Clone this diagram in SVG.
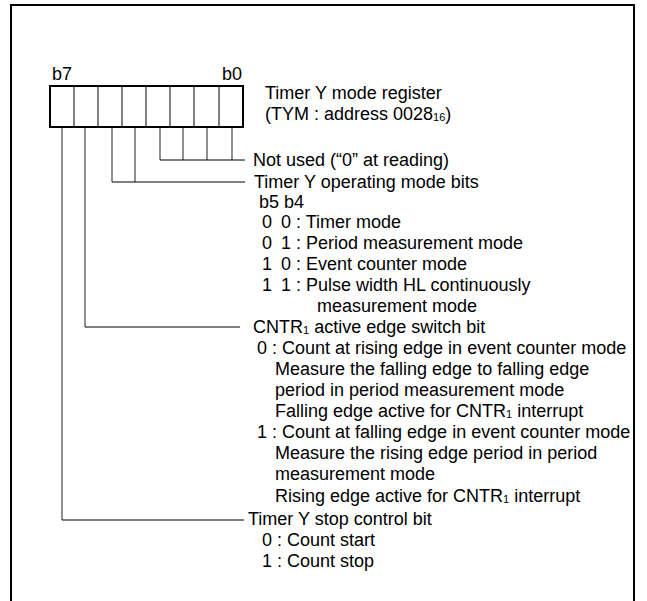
<svg xmlns="http://www.w3.org/2000/svg" width="647" height="601" viewBox="0 0 647 601">
<style>
text{font-family:"Liberation Sans",Arial,sans-serif;font-size:18px;fill:#000}
.sub{font-size:11px}
.ln{stroke:#000;stroke-width:1;fill:none}
.vl{stroke:#555;stroke-width:1.3;fill:none}
</style>
<rect x="0" y="0" width="647" height="601" fill="#fff"/>
<path d="M11,610 V5 H634 V610" fill="none" stroke="#000" stroke-width="2"/>
<g id="register">
<text x="52" y="80">b7</text>
<text x="222" y="80">b0</text>
<rect x="50" y="86" width="193" height="41" fill="#fff" stroke="#000" stroke-width="2"/>
<path class="ln" d="M74,86V127M98,86V127M122,86V127M146,86V127M170,86V127M194,86V127M219,86V127"/>
<text x="265" y="99">Timer Y mode register</text>
<text x="265" y="120">(TYM : address 0028<tspan class="sub" dy="1">16</tspan><tspan dy="-1">)</tspan></text>
</g>
<g id="connectors">
<path class="vl" d="M160,128V160M183,128V160M207,128V160M232,128V160"/>
<path class="ln" d="M160,160H245"/>
<path class="vl" d="M112,128V182M135,128V182"/>
<path class="ln" d="M112,182H245"/>
<path class="vl" d="M85,128V327"/>
<path class="ln" d="M85,327H240"/>
<path class="vl" d="M62,128V520"/>
<path class="ln" d="M62,520H244"/>
</g>
<g id="not-used">
<text x="253" y="166">Not used (“0” at reading)</text>
</g>
<g id="mode-bits">
<text x="254" y="188">Timer Y operating mode bits</text>
<text x="259" y="208">b5 b4</text>
<text x="262" y="228">0</text><text x="281" y="228">0 : Timer mode</text>
<text x="262" y="249">0</text><text x="281" y="249">1 : Period measurement mode</text>
<text x="262" y="270">1</text><text x="281" y="270">0 : Event counter mode</text>
<text x="262" y="291">1</text><text x="281" y="291">1 : Pulse width HL continuously</text>
<text x="317" y="312">measurement mode</text>
</g>
<g id="cntr-bit">
<text x="253" y="333">CNTR<tspan class="sub" dy="1">1</tspan><tspan dy="-1"> active edge switch bit</tspan></text>
<text x="257" y="354">0 : Count at rising edge in event counter mode</text>
<text x="275" y="375">Measure the falling edge to falling edge</text>
<text x="275" y="396">period in period measurement mode</text>
<text x="275" y="417">Falling edge active for CNTR<tspan class="sub" dy="1">1</tspan><tspan dy="-1"> interrupt</tspan></text>
<text x="257" y="438">1 : Count at falling edge in event counter mode</text>
<text x="275" y="459">Measure the rising edge period in period</text>
<text x="275" y="480">measurement mode</text>
<text x="275" y="502">Rising edge active for CNTR<tspan class="sub" dy="1">1</tspan><tspan dy="-1"> interrupt</tspan></text>
</g>
<g id="stop-bit">
<text x="248" y="525">Timer Y stop control bit</text>
<text x="262" y="546">0 : Count start</text>
<text x="262" y="567">1 : Count stop</text>
</g>
</svg>
